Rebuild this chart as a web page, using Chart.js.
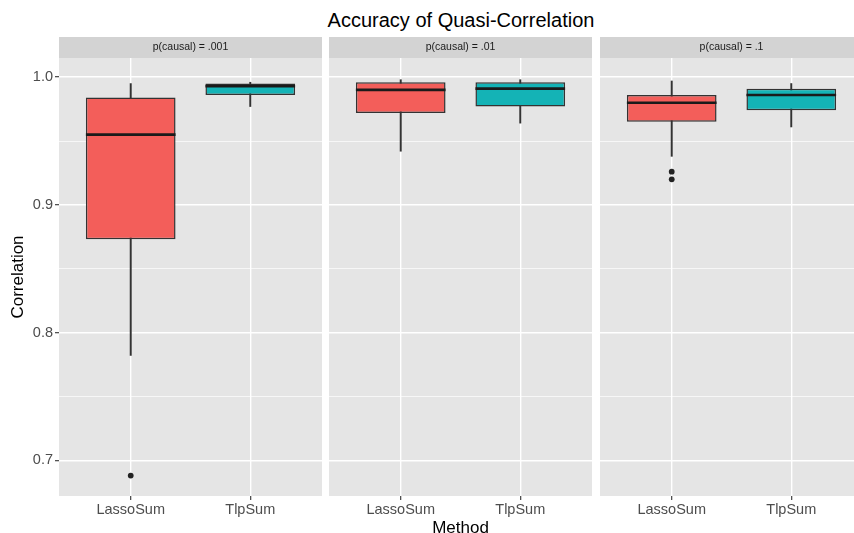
<!DOCTYPE html>
<html lang="en">
<head>
  <meta charset="UTF-8" />
  <title>Accuracy of Quasi-Correlation</title>
  <script src="https://cdn.jsdelivr.net/npm/chart.js"></script>
  <style>
    body {
        margin: 0;
        width: 854px;
        height: 533px;
        overflow: hidden;
        position: relative;
        background: #fff;
        font-family: "Liberation Sans", Arial, Helvetica, sans-serif;
    }
    h1 {
        position: absolute;
        top: 8px;
        left: 59px;
        width: 804px;
        margin: 0;
        text-align: center;
        font-size: 20px;
        line-height: 24px;
        font-weight: normal;
        color: #000;
    }
    canvas { position: absolute; top: 37px; }
  </style>
</head>
<body>
  <h1>Accuracy of Quasi-Correlation</h1>
  <canvas id="panel0" width="322" height="502" style="left:0px"></canvas>
  <canvas id="panel1" width="263" height="502" style="left:329px"></canvas>
  <canvas id="panel2" width="263" height="502" style="left:600px"></canvas>

  <script>
    // facets and methods
    const panels = ['p(causal) = .001', 'p(causal) = .01', 'p(causal) = .1'];
    const methods = ['LassoSum', 'TlpSum'];

    // box stats, one row per facet: [LassoSum, TlpSum]
    const whiskerLow  = [[0.782, 0.977], [0.942, 0.964], [0.938, 0.961]];
    const q1          = [[0.873, 0.986], [0.972, 0.977], [0.965, 0.974]];
    const median      = [[0.955, 0.993], [0.990, 0.991], [0.980, 0.986]];
    const q3          = [[0.984, 0.995], [0.996, 0.996], [0.986, 0.991]];
    const whiskerHigh = [[0.995, 0.996], [0.998, 0.998], [0.997, 0.995]];
    const outliers    = [[[0.688], []], [[], []], [[0.926, 0.920], []]];

    const yTicks = [0.7, 0.8, 0.9, 1.0];
    const yMinorTicks = [0.75, 0.85, 0.95];
    const yMin = 0.672, yMax = 1.015;

    const fills = ['#F35E5A', '#14B3B6'];
    const boxWidth = 0.75; // in x units, like ggplot

    Chart.defaults.font.family = '"Liberation Sans", Arial, Helvetica, sans-serif';

    const isMajor = v => yTicks.some(t => Math.abs(t - v) < 1e-9);
    const halfBox = c => {
      const s = c.chart.scales.x;
      return Math.abs(s.getPixelForValue(1 + boxWidth / 2) - s.getPixelForValue(1));
    };

    const panelBg = {
      id: 'panelBg',
      beforeDraw(chart) {
        const { ctx, chartArea: a } = chart;
        ctx.save();
        ctx.fillStyle = '#D3D3D3';
        ctx.fillRect(a.left, 0, a.width, a.top);
        ctx.fillStyle = '#E5E5E5';
        ctx.fillRect(a.left, a.top, a.width, a.height);
        ctx.restore();
      }
    };

    function makePanel(i) {
      const first = i === 0;
      const xs = methods.map((m, j) => j + 1);
      const outlierPts = [];
      outliers[i].forEach((list, j) => list.forEach(v => outlierPts.push({ x: j + 1, y: v })));

      new Chart(document.getElementById('panel' + i), {
        type: 'bar',
        plugins: [panelBg],
        data: {
          datasets: [{
            type: 'bar',
            data: xs.map((x, j) => ({ x, y: [whiskerLow[i][j], whiskerHigh[i][j]] })),
            backgroundColor: '#333333',
            barThickness: 1.3,
            grouped: false,
            order: 3
          }, {
            type: 'bar',
            data: xs.map((x, j) => ({ x, y: [q1[i][j], q3[i][j]] })),
            backgroundColor: fills,
            borderColor: '#333333',
            borderWidth: 1.5,
            borderSkipped: false,
            grouped: false,
            categoryPercentage: boxWidth,
            barPercentage: 1,
            order: 2
          }, {
            type: 'scatter',
            data: xs.map((x, j) => ({ x, y: median[i][j] })),
            pointStyle: 'line',
            pointRadius: halfBox,
            pointBorderWidth: 2.6,
            pointBorderColor: '#1a1a1a',
            order: 1
          }, {
            type: 'scatter',
            data: outlierPts,
            pointRadius: 2.9,
            pointBackgroundColor: '#222222',
            pointBorderWidth: 0,
            order: 0
          }]
        },
        options: {
          responsive: false,
          animation: false,
          events: [],
          layout: { padding: 0, autoPadding: false },
          plugins: {
            legend: { display: false },
            tooltip: { enabled: false },
            title: {
              display: true,
              text: panels[i],
              fullSize: false,
              color: '#1a1a1a',
              font: { size: 10.5, weight: 'normal' },
              padding: { top: 4.2, bottom: 4.2 }
            }
          },
          scales: {
            x: {
              type: 'linear',
              min: 0.4,
              max: 2.6,
              offset: false,
              afterBuildTicks: s => { s.ticks = xs.map(v => ({ value: v })); },
              afterFit: s => { s.height = 43; s.paddingLeft = 0; s.paddingRight = 0; },
              ticks: {
                callback: v => methods[Math.round(v) - 1],
                color: '#4d4d4d',
                font: { size: 14.5 },
                padding: 1,
                maxRotation: 0,
                autoSkip: false
              },
              grid: { color: '#ffffff', lineWidth: 1.4, tickColor: '#333333', tickWidth: 1.1, tickLength: 4, offset: false },
              border: { display: false },
              title: {
                display: i === 1,
                text: 'Method',
                color: '#000',
                font: { size: 17 },
                padding: 0
              }
            },
            y: {
              type: 'linear',
              min: yMin,
              max: yMax,
              afterBuildTicks: s => {
                s.ticks = [...yTicks, ...yMinorTicks].sort((a, b) => a - b).map(v => ({ value: v }));
              },
              afterFit: s => { s.width = first ? 59 : 0; s.paddingTop = 0; s.paddingBottom = 0; },
              ticks: {
                display: first,
                callback: v => isMajor(v) ? v.toFixed(1) : '',
                color: '#4d4d4d',
                font: { size: 14.5 },
                padding: 2
              },
              grid: {
                color: '#ffffff',
                lineWidth: c => (c.tick && isMajor(c.tick.value)) ? 1.4 : 0.7,
                drawTicks: first,
                tickLength: 4,
                tickWidth: 1.1,
                tickColor: c => (c.tick && isMajor(c.tick.value)) ? '#333333' : 'rgba(0,0,0,0)'
              },
              border: { display: false },
              title: {
                display: first,
                text: 'Correlation',
                color: '#000',
                font: { size: 17 },
                padding: { top: 8, bottom: 0 }
              }
            }
          }
        }
      });
    }

    panels.forEach((p, i) => makePanel(i));
  </script>
</body>
</html>
